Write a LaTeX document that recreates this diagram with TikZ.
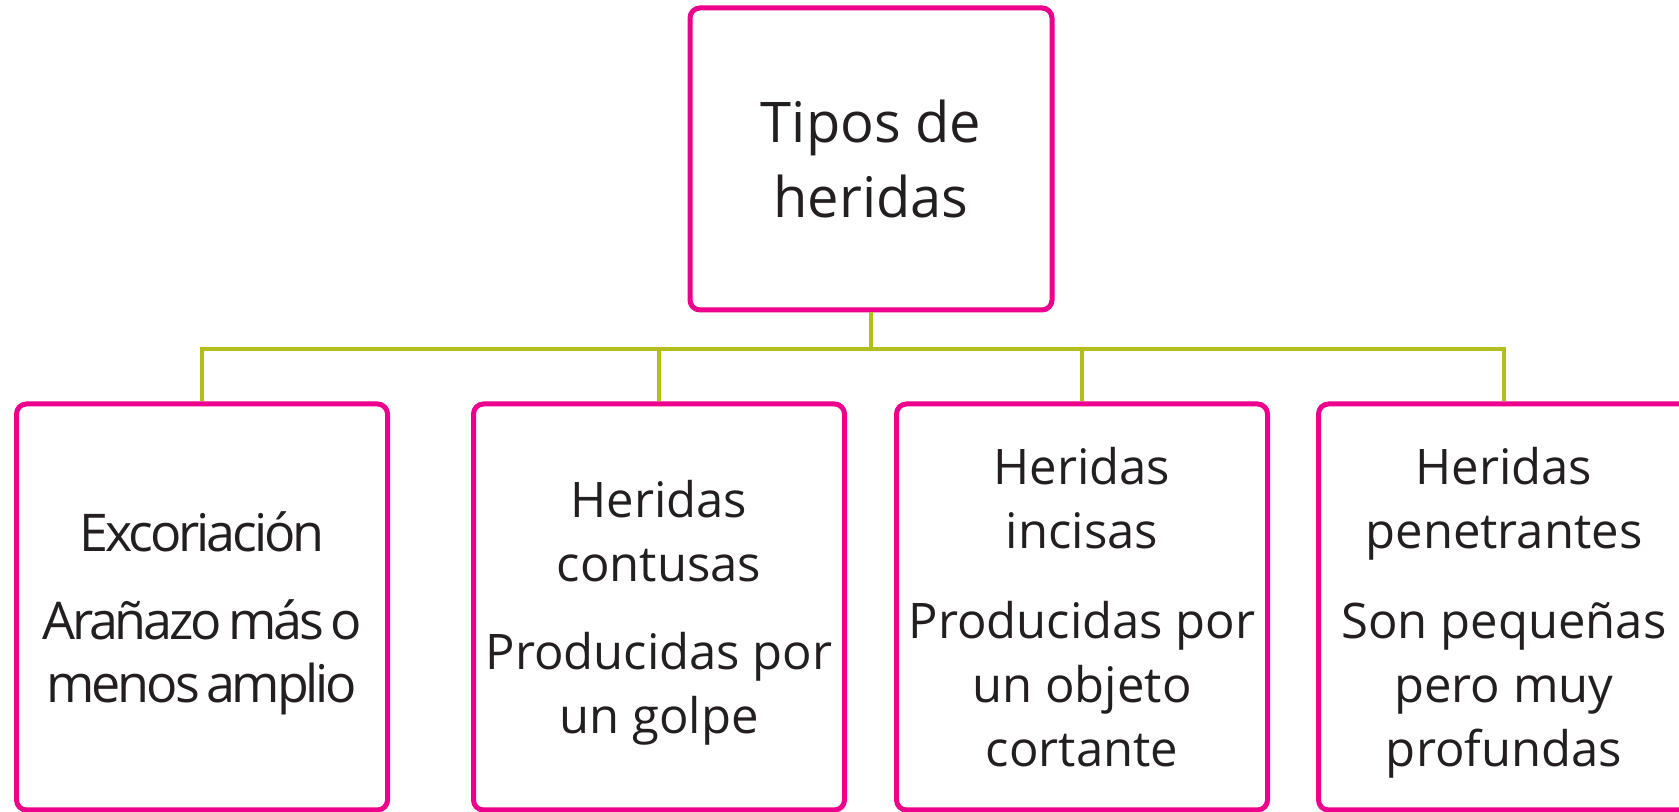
\documentclass[tikz,border=0pt]{standalone}
\usepackage{fontspec}
\setmainfont{Open Sans}
\newfontfamily\narrowfont[LetterSpace=-6.0,WordSpace=0.6]{Open Sans}
\definecolor{heridapink}{RGB}{236,0,140}
\definecolor{forkgreen}{RGB}{178,189,30}
\definecolor{ink}{RGB}{35,31,32}
\tikzset{
topbox/.style={
	draw=heridapink, line width=2.5pt, rounded corners=5pt,
	minimum width=181pt, minimum height=151pt, align=center, text=ink,
	font=\fontsize{28pt}{37.5pt}\selectfont},
leafbox/.style={
	draw=heridapink, line width=2.5pt, rounded corners=5pt,
	minimum width=185.5pt, minimum height=203pt,
	inner sep=0pt, text depth=0pt, align=center, text=ink,
	font=\fontsize{24.5pt}{32pt}\selectfont},
link/.style={draw=forkgreen, line width=2pt}
}

\begin{document}
\begin{tikzpicture}[x=0.5pt, y=0.5pt]
	\useasboundingbox (0,0) rectangle (1679,812);
	\node[topbox] (root) at (871,653) {Tipos de\\heridas};
	\node[leafbox, font=\narrowfont\fontsize{26pt}{31.5pt}\selectfont] (exc) at (202,205)
		{Excoriación\\[12.5pt]Arañazo más o\\menos amplio};
	\node[leafbox] (cont) at (659,205) {Heridas\\contusas\\[12pt]Producidas por\\un golpe};
	\node[leafbox] (inc) at (1082,205) {Heridas\\incisas\\[13pt]Producidas por\\un objeto\\cortante};
	\node[leafbox] (pen) at (1504,205) {Heridas\\penetrantes\\[13pt]Son pequeñas\\pero muy\\profundas};
	% fork from the title to every kind
	\coordinate (fork) at (root.south |- 0,463);
	\draw[link] (root.south) -- (fork);
	\foreach \kind in {exc,cont,inc,pen}
		\draw[link] (fork) -| (\kind.north);
\end{tikzpicture}
\end{document}
